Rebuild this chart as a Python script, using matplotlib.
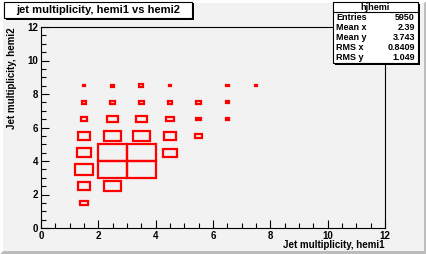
import matplotlib
matplotlib.use('Agg')
import matplotlib.pyplot as plt
from matplotlib.patches import Rectangle, Polygon

plt.rcParams['font.family'] = ['Liberation Sans', 'DejaVu Sans']
plt.rcParams['font.weight'] = 'bold'

# bin edges (1 unit bins), lower edge of each bin
x_bins = [1, 2, 3, 4, 5, 6, 7]
y_bins = [1, 2, 3, 4, 5, 6, 7, 8]
# counts[iy][ix]
counts = [
    [126, 0, 0, 0, 0, 0, 0],
    [213, 281, 0, 0, 0, 0, 0],
    [305, 484, 484, 0, 0, 0, 0],
    [247, 479, 479, 237, 0, 0, 0],
    [213, 281, 281, 213, 126, 0, 0],
    [111, 179, 194, 126, 77, 58, 0],
    [68, 92, 92, 68, 77, 58, 0],
    [44, 58, 68, 44, 0, 44, 44],
]
title = 'jet multiplicity, hemi1 vs hemi2'
stat_names = ['Entries', 'Mean x', 'Mean y', 'RMS x', 'RMS y']
stat_vals = ['5950', '2.39', '3.743', '0.8409', '1.049']

bg = '#f2f2f2'
W, H = 427, 254
fig = plt.figure(figsize=(W / 100, H / 100), dpi=100, facecolor=bg)
tf = fig.transFigure

# canvas bevel
b = 3
fig.patches.append(Polygon([[0, 0], [1, 0], [1, 1], [1 - b / W, 1 - b / H], [1 - b / W, b / H], [b / W, b / H]],
                           closed=True, transform=tf, facecolor='#bcbcbc', edgecolor='none', zorder=-5))
fig.patches.append(Polygon([[0, 0], [0, 1], [1, 1], [1 - b / W, 1 - b / H], [b / W, 1 - b / H], [b / W, b / H]],
                           closed=True, transform=tf, facecolor='white', edgecolor='none', zorder=-5))

ax = fig.add_axes([41 / W, 1 - 228 / H, 344 / W, 201 / H])
ax.set_facecolor(bg)
ax.set_xlim(0, 12)
ax.set_ylim(0, 12)

cmax = max(max(r) for r in counts)
for iy, yb in enumerate(y_bins):
    for ix, xb in enumerate(x_bins):
        c = counts[iy][ix]
        if c <= 0:
            continue
        s = c / cmax
        ax.add_patch(Rectangle((xb + 0.5 - s / 2, yb + 0.5 - s / 2), s, s,
                               facecolor='none', edgecolor='red', linewidth=1.6))

ax.set_xticks(range(0, 13, 2))
ax.set_yticks(range(0, 13, 2))
ax.set_xticks([i * 0.5 for i in range(25)], minor=True)
ax.set_yticks([i * 0.5 for i in range(25)], minor=True)
ax.tick_params(which='both', direction='in', top=False, right=False, labelsize=7, pad=2)
ax.tick_params(which='major', length=6, width=0.8)
ax.tick_params(which='minor', length=3.5, width=0.8)
for lab in ax.get_xticklabels() + ax.get_yticklabels():
    lab.set_fontweight('bold')
for sp in ax.spines.values():
    sp.set_linewidth(0.8)

fig.text(385 / W, 1 - 245 / H, 'Jet multiplicity, hemi1', ha='right', va='center', fontsize=7, fontweight='bold')
fig.text(12 / W, 1 - 27 / H, 'Jet multiplicity, hemi2', ha='center', va='top', rotation=90, fontsize=7,
         fontweight='bold')

# title box with shadow
fig.patches.append(Rectangle((6 / W, 1 - 20 / H), 188 / W, 17 / H, transform=tf,
                             facecolor='black', edgecolor='none', zorder=4))
fig.patches.append(Rectangle((4 / W, 1 - 18 / H), 188 / W, 16 / H, transform=tf,
                             facecolor='white', edgecolor='black', linewidth=0.8, zorder=4))
fig.text(98 / W, 1 - 10 / H, title, ha='center', va='center', fontsize=8, fontweight='bold', zorder=6)

# stats box
sx0, sy0, sw, sh = 333, 2, 85, 61
fig.patches.append(Rectangle(((sx0 + 2) / W, 1 - (sy0 + sh + 2) / H), sw / W, sh / H, transform=tf,
                             facecolor='black', edgecolor='none', zorder=4))
fig.patches.append(Rectangle((sx0 / W, 1 - (sy0 + sh) / H), sw / W, sh / H, transform=tf,
                             facecolor='white', edgecolor='black', linewidth=0.8, zorder=4))
fig.lines.append(plt.Line2D([sx0 / W, (sx0 + sw) / W], [1 - 12 / H, 1 - 12 / H], transform=tf,
                            color='black', linewidth=0.8, zorder=5))
fig.text((sx0 + sw / 2) / W, 1 - 7 / H, 'hjhemi', ha='center', va='center', fontsize=6.5, fontweight='bold',
         zorder=6)
for i, (n, v) in enumerate(zip(stat_names, stat_vals)):
    yy = 1 - (18 + i * 10) / H
    fig.text((sx0 + 3) / W, yy, n, ha='left', va='center', fontsize=6.5, fontweight='bold', zorder=6)
    fig.text((sx0 + sw - 3) / W, yy, v, ha='right', va='center', fontsize=6.5, fontweight='bold', zorder=6)

fig.savefig('out.png', dpi=100, facecolor=bg)
